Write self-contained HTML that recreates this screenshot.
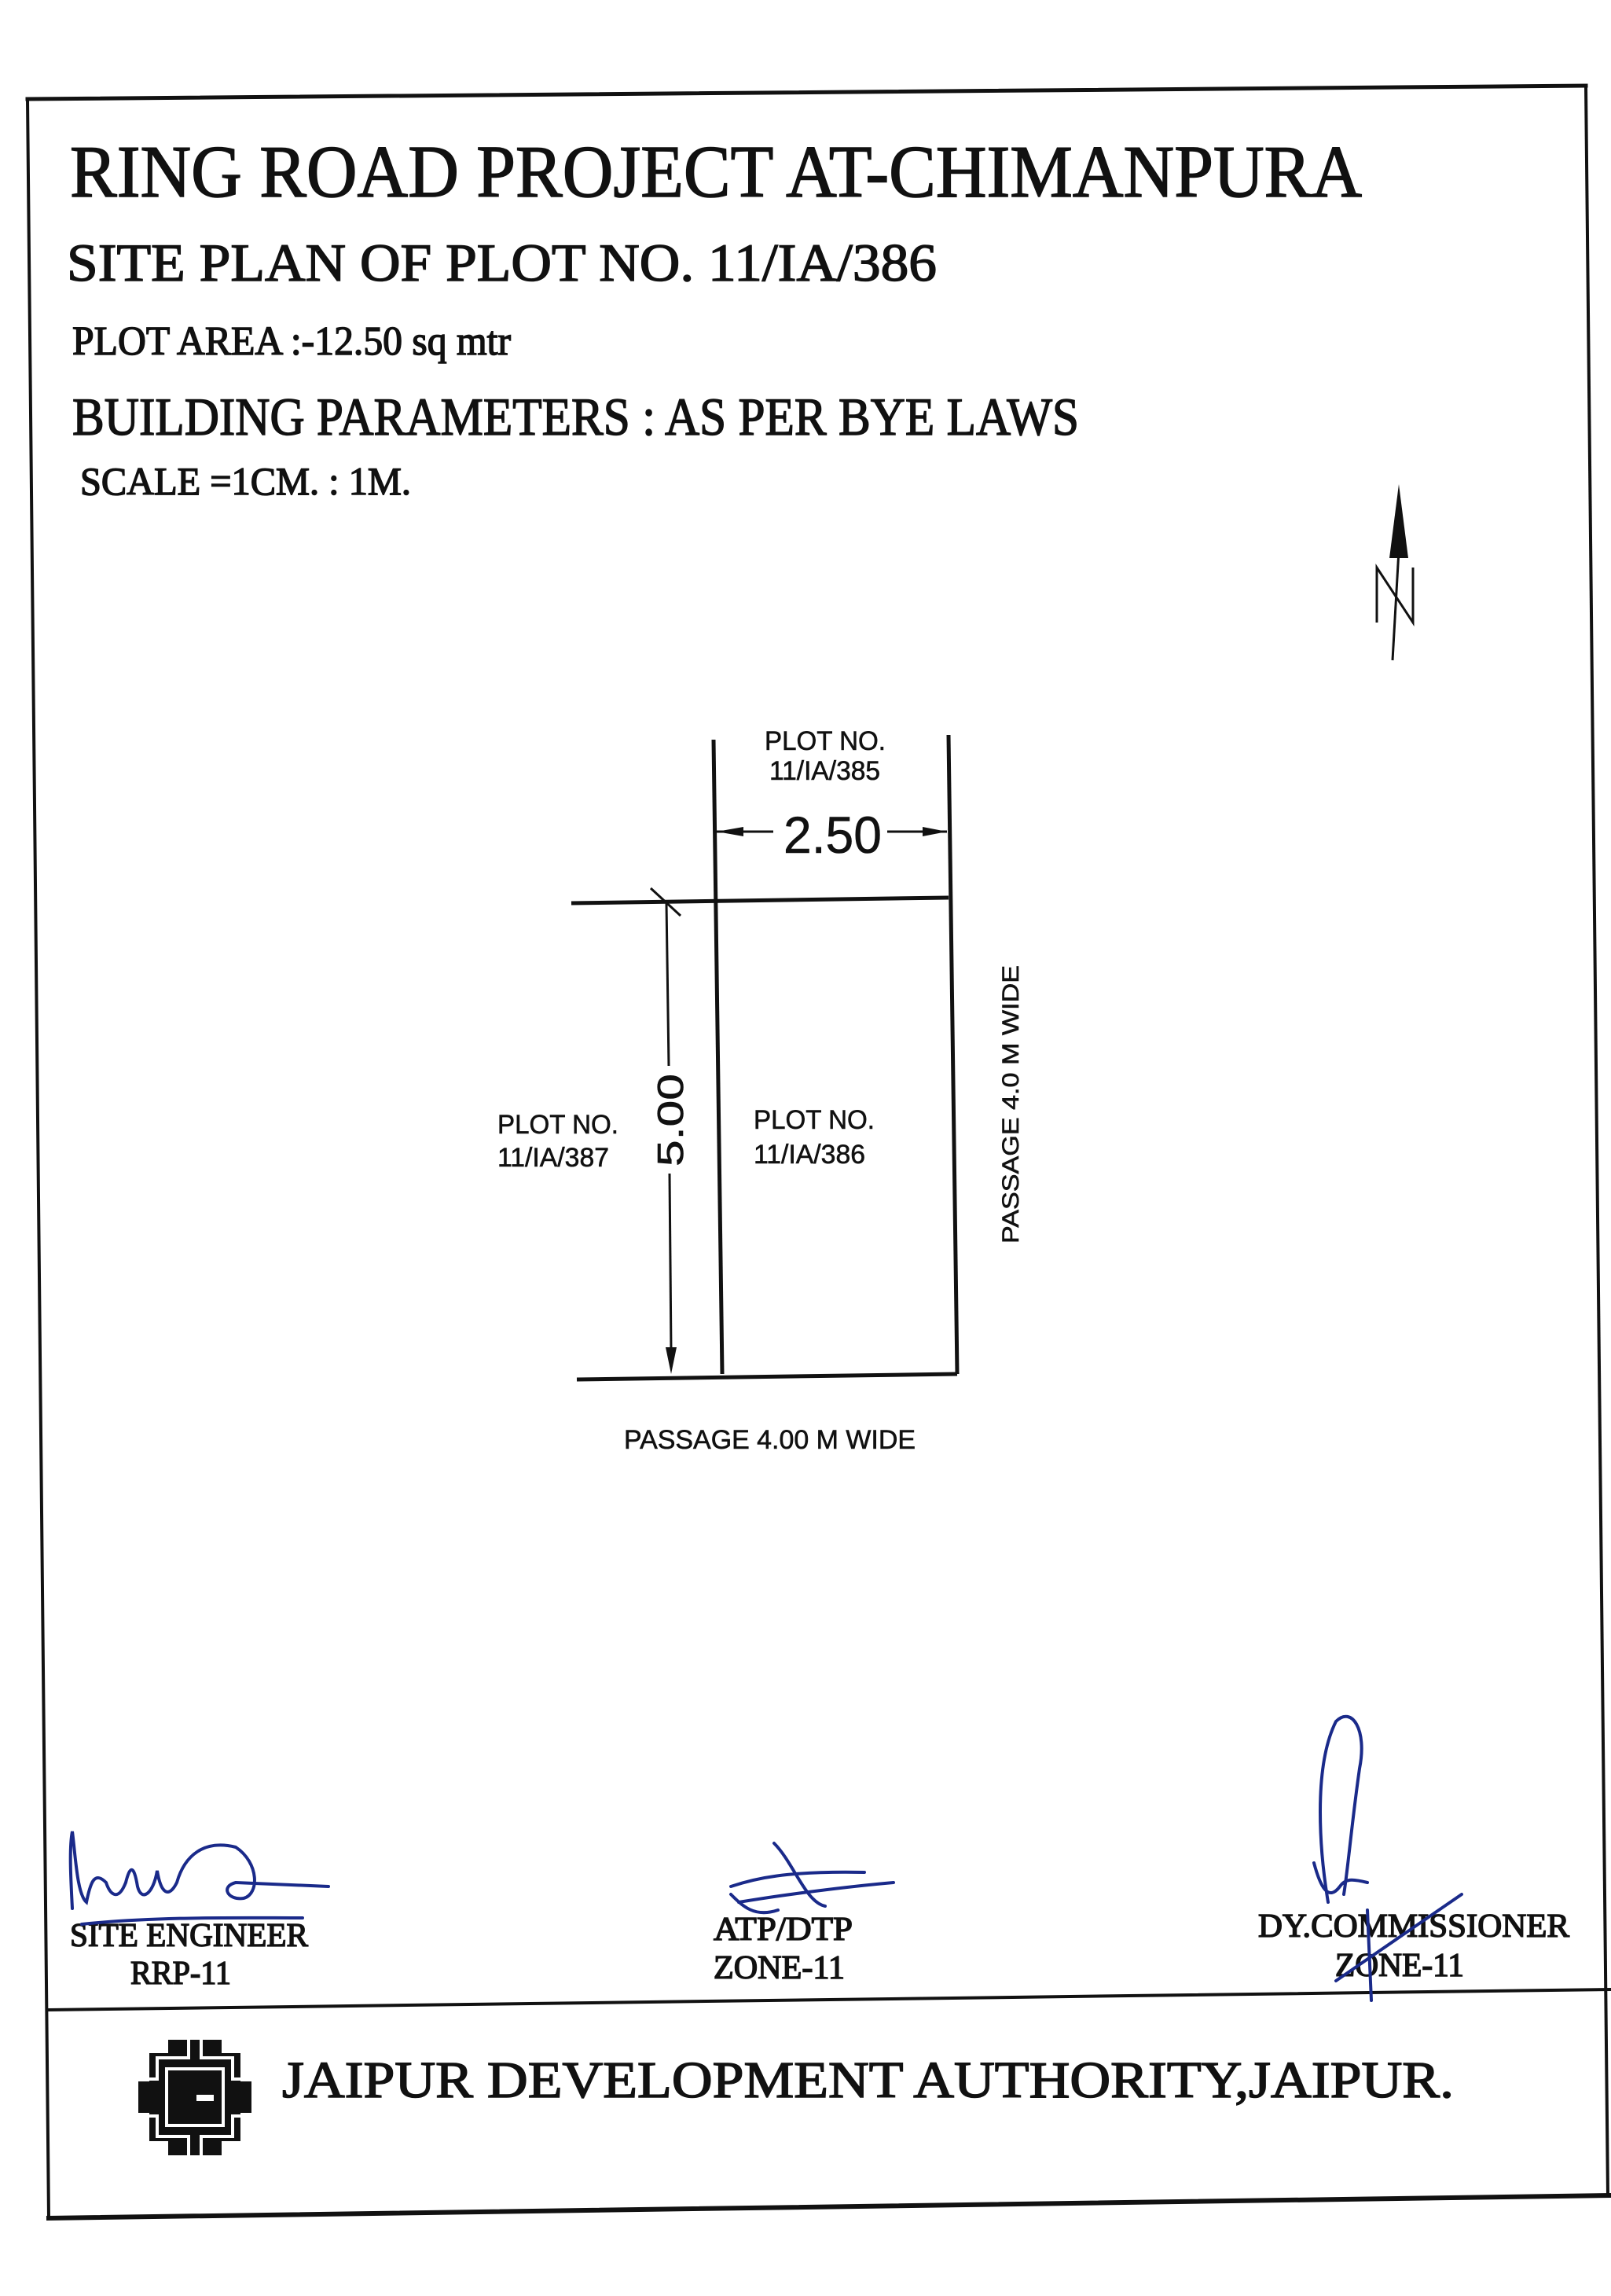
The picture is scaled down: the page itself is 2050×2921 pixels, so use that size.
<!DOCTYPE html>
<html><head><meta charset="utf-8"><style>html,body{margin:0;padding:0;background:#fff}svg{display:block}</style></head>
<body>
<svg width="2050" height="2921" viewBox="0 0 2050 2921" xmlns="http://www.w3.org/2000/svg">
<rect width="2050" height="2921" fill="#fff"/>
<g stroke="#111" fill="none" stroke-linecap="square">
<line x1="35" y1="126" x2="2018" y2="109" stroke-width="5"/>
<line x1="35" y1="126" x2="62" y2="2822" stroke-width="4"/>
<line x1="2018" y1="109" x2="2046" y2="2793" stroke-width="4"/>
<line x1="62" y1="2822" x2="2050" y2="2793" stroke-width="6"/>
<line x1="62" y1="2557" x2="2050" y2="2531" stroke-width="4"/>
</g>
<g font-family="'Liberation Serif',serif" fill="#111" stroke="#111" stroke-width="1.5">
<text x="89" y="250" font-size="94" textLength="1644" lengthAdjust="spacingAndGlyphs">RING ROAD PROJECT AT-CHIMANPURA</text>
<text x="85" y="357" font-size="68" textLength="1107" lengthAdjust="spacingAndGlyphs">SITE PLAN OF PLOT NO.  11/IA/386</text>
<text x="92" y="451" font-size="52" textLength="558" lengthAdjust="spacingAndGlyphs">PLOT AREA :-12.50 sq mtr</text>
<text x="92" y="553" font-size="68" textLength="1281" lengthAdjust="spacingAndGlyphs">BUILDING PARAMETERS :  AS PER BYE LAWS</text>
<text x="102" y="629" font-size="50" textLength="421" lengthAdjust="spacingAndGlyphs">SCALE =1CM. : 1M.</text>
<text x="89" y="2476" font-size="42" textLength="303" lengthAdjust="spacingAndGlyphs">SITE ENGINEER</text>
<text x="166" y="2524" font-size="42" textLength="128" lengthAdjust="spacingAndGlyphs">RRP-11</text>
<text x="908" y="2468" font-size="42" textLength="177" lengthAdjust="spacingAndGlyphs">ATP/DTP</text>
<text x="908" y="2517" font-size="42" textLength="167" lengthAdjust="spacingAndGlyphs">ZONE-11</text>
<text x="1601" y="2464" font-size="42" textLength="396" lengthAdjust="spacingAndGlyphs">DY.COMMISSIONER</text>
<text x="1699" y="2514" font-size="42" textLength="164" lengthAdjust="spacingAndGlyphs">ZONE-11</text>
<text x="359" y="2668" font-size="66" textLength="1491" lengthAdjust="spacingAndGlyphs">JAIPUR  DEVELOPMENT  AUTHORITY,JAIPUR.</text>
</g>
<polygon points="1780,616 1768,710 1792,710" fill="#111"/>
<line x1="1780" y1="700" x2="1772" y2="840" stroke="#111" stroke-width="3"/>
<path d="M1752,792 L1752,722 L1798,792 L1798,722" fill="none" stroke="#111" stroke-width="3"/>
<g stroke="#111" fill="none" stroke-width="5">
<line x1="908" y1="941" x2="919" y2="1748"/>
<line x1="1207" y1="935" x2="1218" y2="1748"/>
<line x1="727" y1="1149" x2="1207" y2="1142"/>
<line x1="734" y1="1755" x2="1218" y2="1748"/>
<g stroke-width="3">
<line x1="848" y1="1149" x2="851" y2="1356"/>
<line x1="852" y1="1493" x2="854" y2="1720"/>
<line x1="828" y1="1130" x2="866" y2="1165"/>
<line x1="912" y1="1058" x2="984" y2="1058"/>
<line x1="1129" y1="1058" x2="1205" y2="1058"/>
</g>
</g>
<g fill="#111">
<polygon points="854,1748 847,1714 861,1714"/>
<polygon points="912,1058 946,1052 946,1064"/>
<polygon points="1205,1058 1174,1052 1174,1064"/>
</g>
<g font-family="'Liberation Sans',sans-serif" fill="#111" stroke="#111" stroke-width="0.6">
<text x="973" y="954" font-size="34" textLength="154" lengthAdjust="spacingAndGlyphs">PLOT NO.</text>
<text x="979" y="992" font-size="34" textLength="141" lengthAdjust="spacingAndGlyphs">11/IA/385</text>
<text x="997" y="1085" font-size="66" textLength="125" lengthAdjust="spacingAndGlyphs">2.50</text>
<text x="633" y="1442" font-size="34" textLength="154" lengthAdjust="spacingAndGlyphs">PLOT NO.</text>
<text x="633" y="1484" font-size="34" textLength="142" lengthAdjust="spacingAndGlyphs">11/IA/387</text>
<text x="959" y="1436" font-size="34" textLength="154" lengthAdjust="spacingAndGlyphs">PLOT NO.</text>
<text x="959" y="1480" font-size="34" textLength="142" lengthAdjust="spacingAndGlyphs">11/IA/386</text>
<text transform="translate(869,1484) rotate(-90)" font-size="46" textLength="118" lengthAdjust="spacingAndGlyphs">5.00</text>
<text transform="translate(1296,1582) rotate(-90)" font-size="30" textLength="354" lengthAdjust="spacingAndGlyphs">PASSAGE 4.0 M WIDE</text>
<text x="794" y="1843" font-size="34" textLength="371" lengthAdjust="spacingAndGlyphs">PASSAGE 4.00 M WIDE</text>
</g>
<g stroke="#1a2a8a" fill="none" stroke-width="4" stroke-linecap="round">
<path d="M92,2428 C90,2390 88,2350 92,2330 C96,2360 98,2410 110,2420 C115,2395 120,2380 135,2395 C140,2410 150,2420 160,2395 C165,2375 170,2370 175,2400 C180,2420 195,2410 200,2380 C205,2410 215,2415 225,2395 C235,2360 260,2340 300,2350 C330,2370 330,2410 310,2415 C290,2418 280,2400 300,2395 L418,2400"/>
<path d="M104,2448 C200,2438 300,2440 385,2440"/>
<path d="M985,2345 C1010,2370 1025,2420 1050,2425 M930,2400 C960,2390 1000,2380 1100,2382 M940,2420 C1000,2410 1080,2400 1137,2395 M930,2410 C945,2425 960,2440 990,2430"/>
<path d="M1690,2420 C1680,2360 1670,2250 1700,2190 C1720,2170 1740,2200 1730,2250 C1720,2320 1715,2380 1710,2410 M1672,2370 C1680,2400 1690,2420 1705,2400 C1712,2390 1720,2390 1740,2395 M1700,2520 L1860,2410 M1740,2430 L1745,2545"/>
</g>
<g fill="#111">
<rect x="176" y="2648" width="144" height="40"/>
<rect x="190" y="2612" width="116" height="112"/>
<rect x="214" y="2595" width="68" height="147"/>
</g>
<g fill="none" stroke="#fff" stroke-width="4">
<path d="M240,2595 V2618 H200 V2645 H176 M256,2595 V2618 H296 V2645 H320 M240,2742 V2718 H200 V2692 H176 M256,2742 V2718 H296 V2692 H320"/>
<rect x="212" y="2632" width="72" height="72"/>
</g>
<rect x="222" y="2642" width="40" height="52" fill="#111"/>
<rect x="250" y="2665" width="22" height="8" fill="#fff"/>
</svg>
</body></html>
